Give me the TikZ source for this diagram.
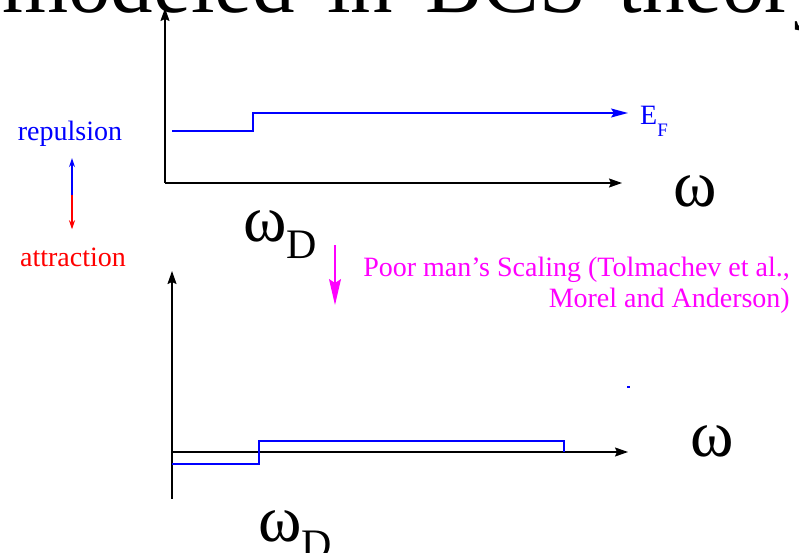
\documentclass[tikz,border=0pt]{standalone}
\usepackage{fontspec}
\setmainfont{Liberation Serif}
\usetikzlibrary{arrows.meta}

\definecolor{scalemag}{RGB}{255,0,255}
\newcommand{\slidetitlefont}{\fontsize{85}{85}\selectfont\spaceskip=0.38em\relax}

\begin{document}
\begin{tikzpicture}[x=1pt,y=-1pt,
  axis/.style={line width=1.5pt,-{Stealth[length=13pt,width=9pt,inset=2pt]}},
  level/.style={blue,line width=1.5pt},
  lbl/.style={inner sep=0pt,font=\fontsize{28}{31}\selectfont},
  big/.style={inner sep=0pt,font=\fontsize{66}{66}\selectfont}]
  \useasboundingbox (0,0) rectangle (799,553);
  % title line of the slide, cut off at the top
  \node[anchor=base west,inner sep=0pt,font=\slidetitlefont] (title) at (2,13) {modeled in BCS theory};

  % sign of the coupling
  \node[lbl,blue,anchor=base] (rep) at (70,141) {repulsion};
  \node[lbl,red,anchor=base] (att) at (73,266) {attraction};
  \coordinate (sgn) at (72,195);
  \draw[blue,line width=1.2pt,-{Stealth[length=9pt,width=6pt]},shorten >=11pt] (sgn) -- (sgn|-rep.south);
  \draw[red,line width=1.2pt,-{Stealth[length=9pt,width=6pt]},shorten >=18pt] (sgn) -- (sgn|-att.north);

  % upper plot: bare interaction
  \coordinate (o1) at (165,183);
  \draw[axis] (o1) -- (165,8);
  \draw[axis] (o1) -- (622,183);
  \coordinate (wd1) at (253,131);
  \draw[level,-{Stealth[length=17pt,width=9pt,inset=3pt]}] (172,131) -- (wd1) -- (253,113) -- (628,113);
  \node[lbl,blue,anchor=base west] (ef) at (640,125) {E\raisebox{-12pt}{\fontsize{19}{19}\selectfont F}};
  \node[big,anchor=base west] (w1) at (673,207) {ω};
  \node[big,anchor=base west] (wD1) at (243,241) {ω\raisebox{-17pt}{\fontsize{42}{42}\selectfont D}};

  % renormalisation step
  \coordinate (rg) at (335,245);
  \draw[scalemag,line width=1.2pt,-{Stealth[length=26pt,width=12pt,inset=4pt]}] (rg) -- (335,305);
  \node[lbl,scalemag,align=right,anchor=north east] (pms) at (790,257) {Poor man’s Scaling (Tolmachev et al.,\\Morel and Anderson)};

  % lower plot: scaled interaction
  \coordinate (o2) at (172,452);
  \draw[line width=1.5pt] (o2) -- (172,499);
  \draw[axis] (o2) -- (172,271);
  \draw[axis] (o2) -- (628,452);
  \draw[level] (172,464) -- (259,464) -- (259,441) -- (564,441) -- (564,452);
  \fill[blue] (627,386) rectangle (630,388);
  \node[big,anchor=base west] (w2) at (690,456) {ω};
  \node[big,anchor=base west] (wD2) at (258,541) {ω\raisebox{-17pt}{\fontsize{42}{42}\selectfont D}};
\end{tikzpicture}
\end{document}
